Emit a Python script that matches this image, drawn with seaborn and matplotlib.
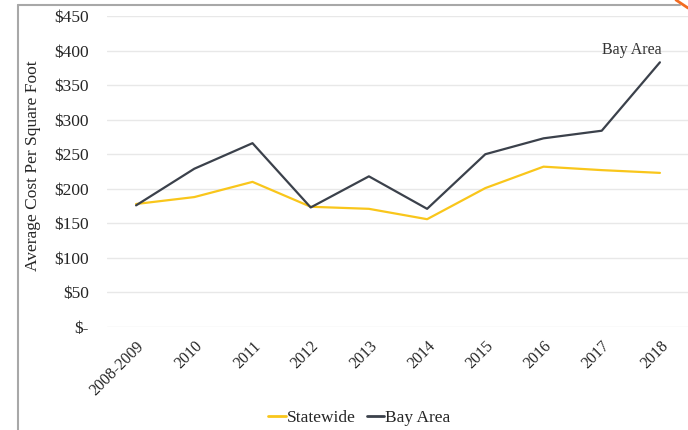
import pandas as pd
import matplotlib.pyplot as plt
from matplotlib.lines import Line2D
import seaborn as sns

# Data
years = ["2008-2009", "2010", "2011", "2012", "2013", "2014", "2015", "2016", "2017", "2018"]
statewide = [178, 188, 210, 174, 171, 156, 201, 232, 227, 223]
bay_area = [176, 229, 266, 173, 218, 171, 250, 273, 284, 383]
y_ticks = [0, 50, 100, 150, 200, 250, 300, 350, 400, 450]
y_labels = ["$-", "$50", "$100", "$150", "$200", "$250", "$300", "$350", "$400", "$450"]


def plot_cost_chart():
    df = pd.DataFrame({
        "Year": years * 2,
        "Cost": statewide + bay_area,
        "Region": ["Statewide"] * len(years) + ["Bay Area"] * len(years),
    })

    sns.set_style("white")
    plt.rcParams["font.family"] = ["Liberation Serif", "DejaVu Serif"]

    fig = plt.figure(figsize=(6.88, 4.3), dpi=100)
    ax = fig.add_axes([0.1555, 0.2395, 0.846, 0.7233])

    colors = {"Statewide": "#F9C61B", "Bay Area": "#3B414B"}
    sns.lineplot(data=df, x="Year", y="Cost", hue="Region", palette=colors,
                 sort=False, linewidth=1.6, ax=ax, legend=False)

    ax.set_xlim(-0.5, len(years) - 0.5)
    ax.set_ylim(0, 450)
    ax.set_yticks(y_ticks)
    ax.set_yticklabels(y_labels, fontsize=12.5)
    ax.set_xticks(range(len(years)))
    ax.set_xticklabels(years, rotation=45, ha="right", rotation_mode="anchor", fontsize=11.5)
    ax.tick_params(axis="x", length=0, pad=8)
    ax.tick_params(axis="y", length=0, pad=13)
    ax.set_xlabel("")
    ax.set_ylabel("Average Cost Per Square Foot", fontsize=12.5)
    ax.yaxis.set_label_coords(-0.113, 0.52)
    ax.grid(axis="y", color="#E8E8E8", linewidth=1)
    ax.set_axisbelow(True)
    sns.despine(ax=ax, left=True, bottom=True)

    ax.annotate("Bay Area", xy=(len(years) - 1, bay_area[-1]), xytext=(-20, 3),
                textcoords="offset points", ha="center", va="bottom", fontsize=11.5,
                color="#333333")

    handles = [Line2D([0], [0], color=colors["Statewide"], lw=2),
               Line2D([0], [0], color=colors["Bay Area"], lw=2)]
    fig.legend(handles, ["Statewide", "Bay Area"], loc="center",
               bbox_to_anchor=(0.522, 0.027), ncol=2, frameon=False, fontsize=12.5,
               handlelength=1.0, handletextpad=0.05, columnspacing=0.65)

    # screenshot frame: grey border on left and top, orange corner mark
    fig.add_artist(Line2D([18 / 688, 18 / 688], [0, 1 - 5 / 430], color="#A8A8A8", lw=1.5))
    fig.add_artist(Line2D([18 / 688, 680 / 688], [1 - 5 / 430, 1 - 5 / 430], color="#A8A8A8", lw=1.5))
    fig.add_artist(Line2D([676 / 688, 688 / 688], [1, 1 - 8 / 430], color="#F26B21", lw=2))

    plt.savefig("out.png", dpi=100)


if __name__ == "__main__":
    plot_cost_chart()
